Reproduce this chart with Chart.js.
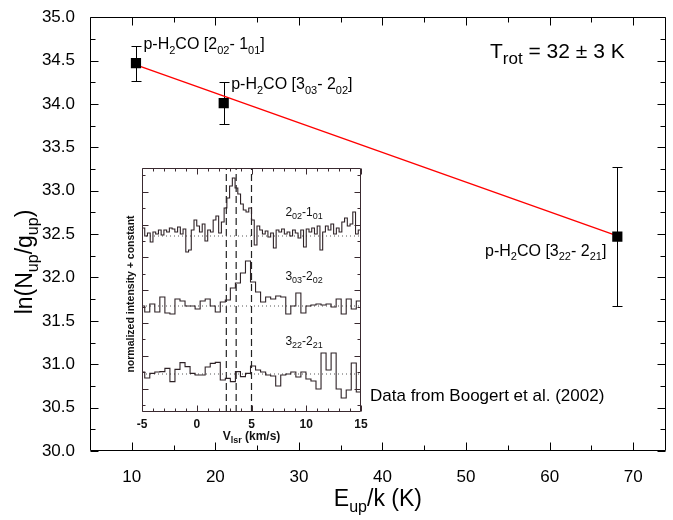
<!DOCTYPE html>
<html>
<head>
<meta charset="utf-8">
<title>p-H2CO rotation diagram</title>
<script src="https://cdn.jsdelivr.net/npm/chart.js@4.4.1/dist/chart.umd.min.js"></script>
<style>
  body { margin: 0; background: #fff; }
  #wrap { position: relative; width: 673px; height: 520px; }
  #main { position: absolute; left: 0; top: 0; }
  #inset { position: absolute; left: 100px; top: 160px; }
</style>
</head>
<body>
<div id="wrap">
  <canvas id="main" width="673" height="520"></canvas>
  <canvas id="inset" width="270" height="290"></canvas>
</div>
<script>
// Diagrama rotacional p-H2CO
const energies = [10.5, 21.0, 68.1]        // E_up/k (K)
const lnNg     = [34.47, 34.01, 32.47]     // ln(N_up/g_up)
const lnNgErr  = [0.20, 0.24, 0.80]
const fitE     = [10.5, 68.1]
const fitLnNg  = [34.45, 32.48]

const xMajor = [10, 20, 30, 40, 50, 60, 70]
const xMinor = [15, 25, 35, 45, 55, 65]
const yMajor = [30.0, 30.5, 31.0, 31.5, 32.0, 32.5, 33.0, 33.5, 34.0, 34.5, 35.0]
const yMinor = [30.25, 30.75, 31.25, 31.75, 32.25, 32.75, 33.25, 33.75, 34.25, 34.75]

// Espectros del recuadro (intensidad normalizada + constante vs V_lsr)
const v0Spec202 = -5.0, dvSpec202 = 0.25
const spec202 = [
  0.4, 0.0, 0.15, -0.3, 0.2, 0.1, 0.3, 0.05,
  0.3, 0.2, 0.4, 0.35, 0.2, 0.45, 0.1, 0.35,
  -0.8, -0.7, 0.3, 0.8, 0.5, 0.2, 0.6, -0.25,
  0.3, 0.2, 0.8, 1.0, 0.15, 0.7, 1.4, 1.9,
  2.5, 2.9, 2.4, 2.1, 1.6, 1.3, 1.2, 1.4,
  0.8, -0.45, 0.5, 0.3, 0.1, 0.25, -0.05, 0.15,
  -0.6, 0.3, 0.2, 0.35, 0.1, 0.2, 0.0, 0.3,
  0.15, -0.1, 0.3, -0.55, 0.35, 0.2, 0.4, 0.1,
  0.5, -0.7, 0.2, 0.5, 0.3, 0.6, 0.1, 0.4,
  0.2, 0.7, 0.9, 0.5, 0.6, 1.2, 0.1, 0.3
]
const v0Spec303 = -5.21, dvSpec303 = 0.46
const spec303 = [
  0.0, -0.3, 0.1, -0.3, 0.45, -0.35, -0.4, 0.35,
  0.25, 0.0, 0.0, -0.15, 0.25, 0.35, 0.0, -0.3,
  0.2, 0.3, 0.9, 1.15, 1.65, 2.25, 1.2, 0.7,
  0.2, 0.45, 0.35, 0.5, 0.45, -0.4, 0.0, 0.65,
  -0.35, 0.0, 0.05, 0.1, 0.05, 0.1, -0.05, 0.35,
  -0.4, 0.35, -0.15, 0.25
]
const v0Spec322 = -5.21, dvSpec322 = 0.46
const spec322 = [
  0.1, -0.2, 0.03, 0.1, 0.12, 0.28, -0.38, 0.23,
  0.57, 0.37, 0.03, -0.05, -0.05, 0.35, 0.53, 0.58,
  -0.3, -0.22, -0.38, 0.12, -0.13, 0.03, 0.4, 0.2,
  0.1, -0.05, -0.1, -0.6, -0.05, 0.0, 0.1, -0.15,
  0.1, -0.25, -0.35, -0.75, 1.05, 0.2, 1.05, -0.75,
  -1.2, -0.8, 0.55, -0.9
]
const specOffsets = [8.8, 5.3, 1.9]
const vMarks = [2.7, 3.6, 5.0]

const insetXMajor = [-5, 0, 5, 10, 15]
const insetXMinor = [-4, -3, -2, -1, 1, 2, 3, 4, 6, 7, 8, 9, 11, 12, 13, 14]
const insetYMajor = [1.17, 2.81, 4.45, 6.09, 7.73, 9.37, 11.01]
const insetYMinor = [0.35, 1.99, 3.63, 5.27, 6.91, 8.55, 10.19, 11.83]

const FONT = "'Liberation Sans', Arial, Helvetica, sans-serif"

// Texto con subíndices: parts = [[texto, esSub], ...], y = línea base
const drawRich = (ctx, parts, x, y, size, subSize, align, weight = '') => {
  const fontOf = sub => `${weight} ${sub ? subSize : size}px ${FONT}`.trim()
  let w = 0
  parts.forEach(([t, sub]) => { ctx.font = fontOf(sub); w += ctx.measureText(t).width })
  let cx = align === 'center' ? x - w / 2 : align === 'right' ? x - w : x
  ctx.textAlign = 'left'
  ctx.textBaseline = 'alphabetic'
  parts.forEach(([t, sub]) => {
    ctx.font = fontOf(sub)
    ctx.fillText(t, cx, sub ? y + size * 0.28 : y)
    cx += ctx.measureText(t).width
  })
}

// Marco con ticks hacia adentro en los cuatro lados
const framePlugin = {
  id: 'frame',
  afterDatasetsDraw(chart, args, o) {
    const {ctx, chartArea: a, scales: {x, y}} = chart
    const L = Math.round(a.left) + 0.5, R = Math.round(a.right) - 0.5
    const T = Math.round(a.top) + 0.5, B = Math.round(a.bottom) - 0.5
    ctx.save()
    ctx.strokeStyle = o.color
    ctx.lineWidth = o.width
    ctx.beginPath()
    ctx.rect(L, T, R - L, B - T)
    const vTicks = (vals, len) => vals.forEach(v => {
      const px = Math.round(x.getPixelForValue(v)) + 0.5
      ctx.moveTo(px, B); ctx.lineTo(px, B - len)
      ctx.moveTo(px, T); ctx.lineTo(px, T + len)
    })
    const hTicks = (vals, len) => vals.forEach(v => {
      const py = Math.round(y.getPixelForValue(v)) + 0.5
      ctx.moveTo(L, py); ctx.lineTo(L + len, py)
      ctx.moveTo(R, py); ctx.lineTo(R - len, py)
    })
    vTicks(o.xMajor, o.majorLen); vTicks(o.xMinor, o.minorLen)
    hTicks(o.yMajor, o.majorLen); hTicks(o.yMinor, o.minorLen)
    ctx.stroke()
    ctx.restore()
  }
}

// Barras de error verticales
const errorBars = {
  id: 'errorBars',
  beforeDatasetsDraw(chart) {
    const {ctx, scales: {x, y}} = chart
    ctx.save()
    ctx.strokeStyle = '#000'
    ctx.lineWidth = 1
    ctx.beginPath()
    energies.forEach((e, i) => {
      const px = Math.round(x.getPixelForValue(e)) + 0.5
      const top = Math.round(y.getPixelForValue(lnNg[i] + lnNgErr[i])) + 0.5
      const bot = Math.round(y.getPixelForValue(lnNg[i] - lnNgErr[i])) + 0.5
      ctx.moveTo(px, top); ctx.lineTo(px, bot)
      ctx.moveTo(px - 5, top); ctx.lineTo(px + 5, top)
      ctx.moveTo(px - 5, bot); ctx.lineTo(px + 5, bot)
    })
    ctx.stroke()
    ctx.restore()
  }
}

const lineNames = [
  [['p-H'], ['2', 1], ['CO ['], ['2'], ['02', 1], ['- 1'], ['01', 1], [']']],
  [['p-H'], ['2', 1], ['CO ['], ['3'], ['03', 1], ['- 2'], ['02', 1], [']']],
  [['p-H'], ['2', 1], ['CO ['], ['3'], ['22', 1], ['- 2'], ['21', 1], [']']]
]

// Títulos de ejes y anotaciones
const mainText = {
  id: 'mainText',
  afterDraw(chart) {
    const {ctx, chartArea: a, scales: {x, y}} = chart
    ctx.save()
    ctx.fillStyle = '#000'
    drawRich(ctx, [['E'], ['up', 1], ['/k (K)']], (a.left + a.right) / 2, 506, 23, 16, 'center')
    ctx.save()
    ctx.translate(32, 262)
    ctx.rotate(-Math.PI / 2)
    drawRich(ctx, [['ln(N'], ['up', 1], ['/g'], ['up', 1], [')']], 0, 0, 23, 16, 'center')
    ctx.restore()

    const px = energies.map(e => x.getPixelForValue(e))
    const py = lnNg.map(v => y.getPixelForValue(v))
    drawRich(ctx, lineNames[0], px[0] + 7.5, py[0] - 14, 16, 11, 'left')
    drawRich(ctx, lineNames[1], px[1] + 7.5, py[1] - 14, 16, 11, 'left')
    drawRich(ctx, lineNames[2], px[2] - 11, py[2] + 19, 16, 11, 'right')

    drawRich(ctx, [['T'], ['rot', 1], [' = 32 \u00b1 3 K']], 490, 58, 21, 17, 'left')
    drawRich(ctx, [['Data from Boogert et al. (2002)']], 370, 401, 17, 12, 'left')
    ctx.restore()
  }
}

new Chart(document.getElementById('main'), {
  type: 'scatter',
  data: {
    datasets: [
      {
        label: 'fit',
        data: fitE.map((e, i) => ({x: e, y: fitLnNg[i]})),
        showLine: true,
        borderColor: '#ff0000',
        borderWidth: 1.4,
        pointRadius: 0,
        order: 2
      },
      {
        label: 'p-H2CO',
        data: energies.map((e, i) => ({x: e, y: lnNg[i]})),
        pointStyle: 'rect',
        pointRadius: 7.2,
        backgroundColor: '#000',
        borderColor: '#000',
        borderWidth: 0,
        order: 1
      }
    ]
  },
  options: {
    animation: false,
    responsive: false,
    devicePixelRatio: 1,
    layout: {padding: {top: 16, right: 1, left: 0, bottom: 0}},
    scales: {
      x: {
        type: 'linear',
        min: 5,
        max: 73.9,
        grid: {display: false},
        border: {display: false},
        afterBuildTicks: s => { s.ticks = [...xMajor, ...xMinor].sort((a, b) => a - b).map(v => ({value: v})) },
        afterFit: s => { s.height = 69 },
        ticks: {
          autoSkip: false, maxRotation: 0, padding: 8, color: '#000',
          font: {family: FONT, size: 17},
          callback: v => xMajor.includes(v) ? String(v) : ''
        }
      },
      y: {
        min: 30,
        max: 35,
        grid: {display: false},
        border: {display: false},
        afterBuildTicks: s => { s.ticks = [...yMajor, ...yMinor].sort((a, b) => a - b).map(v => ({value: v})) },
        afterFit: s => { s.width = 90 },
        ticks: {
          autoSkip: false, padding: 7, color: '#000',
          font: {family: FONT, size: 17},
          callback: v => yMajor.includes(v) ? v.toFixed(1) : ''
        }
      }
    },
    plugins: {
      legend: {display: false},
      tooltip: {enabled: false},
      frame: {xMajor, xMinor, yMajor, yMinor, majorLen: 8, minorLen: 5, color: '#000', width: 1}
    }
  },
  plugins: [errorBars, framePlugin, mainText]
})

// Recuadro con los espectros
const stepData = (v0, dv, vals, off) => {
  const pts = vals.map((d, k) => ({x: v0 + dv * k, y: off + d}))
  pts.push({x: v0 + dv * vals.length, y: off + vals[vals.length - 1]})
  return pts
}

const insetBg = {
  id: 'insetBg',
  beforeDraw(chart) {
    const {ctx, chartArea: a} = chart
    ctx.save()
    ctx.fillStyle = '#fff'
    ctx.fillRect(a.left, a.top, a.right - a.left, a.bottom - a.top)
    ctx.restore()
  }
}

const specNames = [
  [['2'], ['02', 1], ['-1'], ['01', 1]],
  [['3'], ['03', 1], ['-2'], ['02', 1]],
  [['3'], ['22', 1], ['-2'], ['21', 1]]
]

const insetText = {
  id: 'insetText',
  afterDraw(chart) {
    const {ctx, chartArea: a, scales: {x, y}} = chart
    ctx.save()
    ctx.fillStyle = '#111'
    insetXMajor.forEach(v => {
      drawRich(ctx, [[String(v)]], x.getPixelForValue(v), a.bottom + 16, 12, 8, 'center', 'bold')
    })
    drawRich(ctx, [['V'], ['lsr', 1], [' (km/s)']], (a.left + a.right) / 2, a.bottom + 28, 12, 9, 'center', 'bold')
    ctx.save()
    ctx.translate(a.left - 8, (a.top + a.bottom) / 2 + 4)
    ctx.rotate(-Math.PI / 2)
    drawRich(ctx, [['normalized intensity + constant']], 0, 0, 10.5, 8, 'center', 'bold')
    ctx.restore()
    const labelY = [9.95, 6.75, 3.5]
    specNames.forEach((p, i) => {
      drawRich(ctx, p, x.getPixelForValue(9.8), y.getPixelForValue(labelY[i]) + 3, 12, 9, 'center')
    })
    ctx.restore()
  }
}

const specLine = data => ({
  data, stepped: true, borderColor: '#2e2226', borderWidth: 1.1, pointRadius: 0, order: 1
})

new Chart(document.getElementById('inset'), {
  type: 'line',
  data: {
    datasets: [
      specLine(stepData(v0Spec202, dvSpec202, spec202, specOffsets[0])),
      specLine(stepData(v0Spec303, dvSpec303, spec303, specOffsets[1])),
      specLine(stepData(v0Spec322, dvSpec322, spec322, specOffsets[2])),
      ...specOffsets.map(off => ({
        data: [{x: -5, y: off}, {x: 15, y: off}],
        borderColor: '#555', borderWidth: 1, borderDash: [1, 3], pointRadius: 0, order: 2
      })),
      ...vMarks.map(v => ({
        data: [{x: v, y: 0}, {x: v, y: 12.2}],
        borderColor: '#222', borderWidth: 1.2, borderDash: [7, 4], pointRadius: 0, order: 2
      }))
    ]
  },
  options: {
    animation: false,
    responsive: false,
    devicePixelRatio: 1,
    layout: {padding: {left: 42, top: 8, right: 9, bottom: 38}},
    scales: {
      x: {type: 'linear', min: -5, max: 15, display: false},
      y: {type: 'linear', min: 0, max: 12.2, display: false}
    },
    plugins: {
      legend: {display: false},
      tooltip: {enabled: false},
      frame: {
        xMajor: insetXMajor, xMinor: insetXMinor, yMajor: insetYMajor, yMinor: insetYMinor,
        majorLen: 6, minorLen: 3, color: '#3a2a30', width: 1
      }
    }
  },
  plugins: [insetBg, framePlugin, insetText]
})
</script>
</body>
</html>
